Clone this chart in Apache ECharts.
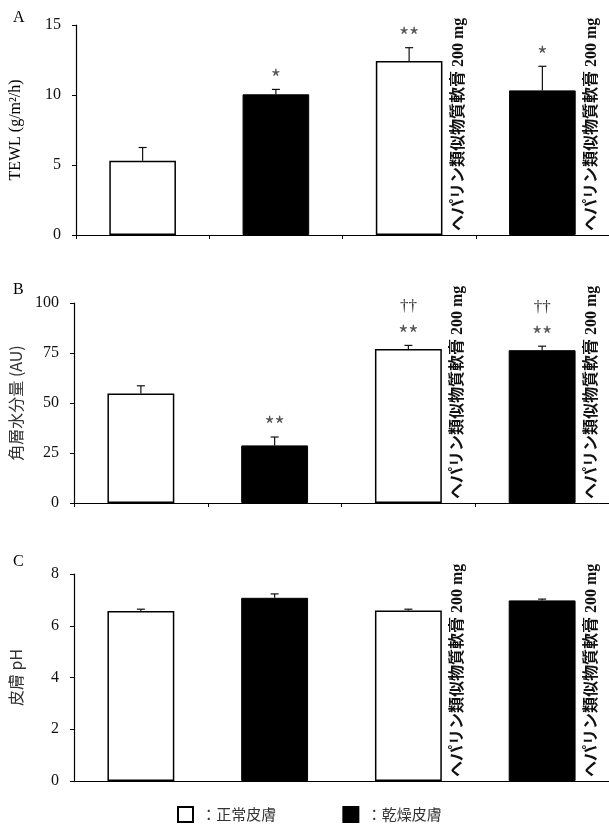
<!DOCTYPE html>
<html>
<head>
<meta charset="utf-8">
<script src="https://cdn.jsdelivr.net/npm/echarts@6/dist/echarts.min.js"></script>
<style>
  html, body { margin: 0; padding: 0; background: #fff; }
  #chart { width: 609px; height: 832px; }
</style>
</head>
<body>
<div id="chart"></div>
<script>
// groups per bar (white = normal skin, black = dry skin)
var groups = ['正常皮膚', '乾燥皮膚', '正常皮膚', '乾燥皮膚']
var treatment = ['', '', 'ヘパリン類似物質軟膏 200 mg', 'ヘパリン類似物質軟膏 200 mg']

// A: TEWL
var tewlMean = [5.3, 10.05, 12.43, 10.33]
var tewlErr = [0.95, 0.35, 0.95, 1.72]
var tewlSig = ['', '*', '**', '*']

// B: stratum corneum hydration
var hydMean = [54.8, 28.8, 77.0, 76.4]
var hydErr = [3.8, 4.2, 1.8, 2.0]
var hydSig = ['', '**', '**', '**']
var hydDagger = ['', '', '††', '††']

// C: skin pH
var phMean = [6.57, 7.08, 6.59, 6.98]
var phErr = [0.07, 0.15, 0.05, 0.05]

var panels = [
    { label: 'A', labelTop: 5, name: 'TEWL (g/m²/h)', nameFont: 'serif', mean: tewlMean, err: tewlErr, sig: tewlSig, dagger: null,
      max: 15, interval: 5, grid: { left: 68, top: 25, width: 542, height: 210 }, ticks: true },
    { label: 'B', labelTop: 277, name: '角層水分量 (AU)', nameFont: 'sans', mean: hydMean, err: hydErr, sig: hydSig, dagger: hydDagger,
      max: 100, interval: 25, grid: { left: 72, top: 303, width: 540, height: 200 }, ticks: true },
    { label: 'C', labelTop: 549, name: '皮膚 pH', nameFont: 'sans', mean: phMean, err: phErr, sig: null, dagger: null,
      max: 8, interval: 2, grid: { left: 72, top: 574, width: 540, height: 207 }, ticks: false },
]

var serif = "'Liberation Serif', 'DejaVu Serif', serif"
var sans = "'Noto Sans CJK JP', 'Noto Sans', sans-serif"
var cats = groups.map(function (g, i) { return String(i) })

var grids = [], xAxis = [], yAxis = [], series = [], titles = []

panels.forEach(function (p, pi) {
    grids.push(p.grid)
    titles.push({
        text: p.label, left: 8, top: p.labelTop,
        textStyle: { fontFamily: serif, fontSize: 16, fontWeight: 'normal', color: '#000' }
    })
    xAxis.push({
        type: 'category', gridIndex: pi, data: cats,
        axisLine: { lineStyle: { color: '#000', width: 1.2 } },
        axisTick: { show: p.ticks, length: 4, lineStyle: { color: '#000' } },
        axisLabel: { show: false },
        splitLine: { show: false }
    })
    yAxis.push({
        type: 'value', gridIndex: pi, min: 0, max: p.max, interval: p.interval,
        name: p.name, nameLocation: 'middle', nameGap: p.nameFont === 'serif' ? 52 : 50, nameRotate: 90,
        nameTextStyle: {
            fontFamily: p.nameFont === 'serif' ? serif : sans,
            fontSize: 16,
            color: p.nameFont === 'serif' ? '#000' : '#333'
        },
        axisLine: { show: true, lineStyle: { color: '#000', width: 1.2 } },
        axisTick: { show: true, length: 4, lineStyle: { color: '#000' } },
        axisLabel: { fontFamily: serif, fontSize: 16, color: '#111', margin: 15 },
        splitLine: { show: false }
    })

    var normalData = p.mean.map(function (v, i) { return groups[i] === '正常皮膚' ? v : '-' })
    var dryData = p.mean.map(function (v, i) { return groups[i] === '乾燥皮膚' ? v : '-' })

    series.push({
        name: '正常皮膚', type: 'bar', xAxisIndex: pi, yAxisIndex: pi,
        data: normalData, barWidth: '50%', barGap: '-100%',
        itemStyle: { color: '#fff', borderColor: '#000', borderWidth: 1.5 },
        emphasis: { disabled: true }, animation: false
    })
    series.push({
        name: '乾燥皮膚', type: 'bar', xAxisIndex: pi, yAxisIndex: pi,
        data: dryData, barWidth: '50%', barGap: '-100%',
        itemStyle: { color: '#000', borderColor: '#000', borderWidth: 1 },
        emphasis: { disabled: true }, animation: false
    })

    // error bars + significance marks + treatment text
    series.push({
        type: 'custom', xAxisIndex: pi, yAxisIndex: pi, z: 5, animation: false, silent: true,
        data: p.mean.map(function (v, i) { return [i, v, p.err[i]] }),
        renderItem: function (params, api) {
            var i = params.dataIndex
            var m = api.value(1), e = api.value(2)
            var base = api.coord([i, m])
            var top = api.coord([i, m + e])
            var zero = api.coord([i, 0])
            var band = api.size([1, 0])[0]
            var children = [
                { type: 'line', shape: { x1: base[0], y1: base[1], x2: top[0], y2: top[1] },
                  style: { stroke: '#111', lineWidth: 1.2 } },
                { type: 'line', shape: { x1: top[0] - 4, y1: top[1], x2: top[0] + 4, y2: top[1] },
                  style: { stroke: '#111', lineWidth: 1.2 } }
            ]
            if (p.sig && p.sig[i]) {
                var chars = p.sig[i].split('')
                chars.forEach(function (c, k) {
                    var dx = (k - (chars.length - 1) / 2) * 10
                    children.push({ type: 'text', x: top[0] + dx, y: top[1] - 12,
                        style: { text: c, fontFamily: sans, fontSize: 22, fill: '#555', align: 'center', verticalAlign: 'middle' } })
                })
            }
            if (p.dagger && p.dagger[i]) {
                children.push({ type: 'text', x: top[0], y: top[1] - 39,
                    style: { text: p.dagger[i], fontFamily: serif, fontSize: 17, fill: '#333', align: 'center', verticalAlign: 'middle' } })
            }
            if (treatment[i]) {
                children.push({ type: 'text', x: zero[0] + band * 0.25 + 16, y: zero[1] - 4, rotation: Math.PI / 2,
                    style: { text: treatment[i], fontFamily: serif + ", 'Noto Sans CJK JP'", fontWeight: 'bold', fontSize: 16,
                             fill: '#111', align: 'left', verticalAlign: 'middle' } })
            }
            return { type: 'group', children: children }
        }
    })
})

var chart = echarts.init(document.getElementById('chart'), null, { renderer: 'canvas' })
chart.setOption({
    backgroundColor: '#fff',
    animation: false,
    title: titles,
    grid: grids,
    xAxis: xAxis,
    yAxis: yAxis,
    legend: {
        data: ['正常皮膚', '乾燥皮膚'],
        left: 172, top: 801,
        icon: 'rect', itemWidth: 15, itemHeight: 15, itemGap: 66,
        formatter: ' ：{name}',
        selectedMode: false,
        textStyle: { fontFamily: sans, fontSize: 15, color: '#333' }
    },
    series: series
})
</script>
</body>
</html>
